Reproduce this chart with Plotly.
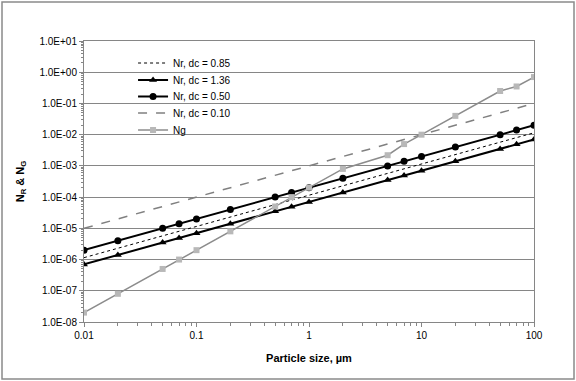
import plotly.graph_objects as go

# ---- data ----
particle_size = [0.01, 0.02, 0.05, 0.07, 0.1, 0.2, 0.5, 0.7, 1, 2, 5, 7, 10, 20, 50, 70, 100]
nr_085 = [1.15e-6, 2.3e-6, 5.75e-6, 8.05e-6, 1.15e-5, 2.3e-5, 5.75e-5, 8.05e-5, 1.15e-4, 2.3e-4,
          5.75e-4, 8.05e-4, 1.15e-3, 2.3e-3, 5.75e-3, 8.05e-3, 1.15e-2]
nr_136 = [7e-7, 1.4e-6, 3.5e-6, 4.9e-6, 7e-6, 1.4e-5, 3.5e-5, 4.9e-5, 7e-5, 1.4e-4,
          3.5e-4, 4.9e-4, 7e-4, 1.4e-3, 3.5e-3, 4.9e-3, 7e-3]
nr_050 = [2e-6, 4e-6, 1e-5, 1.4e-5, 2e-5, 4e-5, 1e-4, 1.4e-4, 2e-4, 4e-4,
          1e-3, 1.4e-3, 2e-3, 4e-3, 1e-2, 1.4e-2, 2e-2]
nr_010 = [1e-5, 2e-5, 5e-5, 7e-5, 1e-4, 2e-4, 5e-4, 7e-4, 1e-3, 2e-3,
          5e-3, 7e-3, 1e-2, 2e-2, 5e-2, 7e-2, 1e-1]
ng = [2e-8, 8e-8, 5e-7, 1e-6, 2e-6, 8e-6, 5e-5, 1e-4, 2e-4, 8e-4,
      2.2e-3, 5e-3, 1e-2, 4e-2, 0.25, 0.35, 0.7]

x_tickvals = [0.01, 0.1, 1, 10, 100]
x_ticktext = ["0.01", "0.1", "1", "10", "100"]
y_tickvals = [1e-8, 1e-7, 1e-6, 1e-5, 1e-4, 1e-3, 1e-2, 1e-1, 1e0, 1e1]
y_ticktext = ["1.0E-08", "1.0E-07", "1.0E-06", "1.0E-05", "1.0E-04",
              "1.0E-03", "1.0E-02", "1.0E-01", "1.0E+00", "1.0E+01"]

GRAY = "#868686"
FONT = "Liberation Sans, Arial, sans-serif"

fig = go.Figure()
fig.add_trace(go.Scatter(x=particle_size, y=nr_085, mode="lines", name="Nr, dc = 0.85",
                         legend="legend",
                         line=dict(color="black", width=1, dash="dot")))
fig.add_trace(go.Scatter(x=particle_size, y=nr_136, mode="lines+markers", name="Nr, dc = 1.36",
                         legend="legend2",
                         line=dict(color="black", width=2),
                         marker=dict(symbol="triangle-up", size=7, color="black")))
fig.add_trace(go.Scatter(x=particle_size, y=nr_050, mode="lines+markers", name="Nr, dc = 0.50",
                         legend="legend3",
                         line=dict(color="black", width=2),
                         marker=dict(symbol="circle", size=7, color="black")))
fig.add_trace(go.Scatter(x=particle_size, y=nr_010, mode="lines", name="Nr, dc = 0.10",
                         legend="legend4",
                         line=dict(color="#808080", width=1.5, dash="dash")))
fig.add_trace(go.Scatter(x=particle_size, y=ng, mode="lines+markers", name="Ng",
                         legend="legend5",
                         line=dict(color="#8c8c8c", width=1.5),
                         marker=dict(symbol="square", size=6, color="#b8b8b8",
                                     line=dict(width=0))))

leg_common = dict(x=0.109, xanchor="left", yanchor="middle",
                  bgcolor="rgba(0,0,0,0)", font=dict(size=10, family=FONT), itemwidth=30)

fig.update_layout(
    width=576, height=381,
    margin=dict(l=84, r=42, t=41, b=59),
    paper_bgcolor="white", plot_bgcolor="white",
    font=dict(family=FONT, size=10, color="black"),
    showlegend=True,
    legend=dict(y=0.9217, **leg_common),
    legend2=dict(y=0.8612, **leg_common),
    legend3=dict(y=0.8025, **leg_common),
    legend4=dict(y=0.7438, **leg_common),
    legend5=dict(y=0.6833, **leg_common),
    shapes=[
        dict(type="rect", xref="paper", yref="paper", x0=-0.1822, x1=1.0889, y0=-0.2028, y1=1.1388,
             line=dict(color="#8a8a8a", width=1.5), fillcolor="rgba(0,0,0,0)"),
    ],
)

fig.update_xaxes(type="log", range=[-2, 2], tickmode="array", tickvals=x_tickvals, ticktext=x_ticktext,
                 showgrid=False, showline=True, linecolor=GRAY, linewidth=1, mirror=True,
                 ticks="outside", ticklen=4, tickcolor=GRAY, tickfont=dict(size=10),
                 minor=dict(ticks="outside", ticklen=3, tickcolor=GRAY, dtick="D1", showgrid=False),
                 zeroline=False,
                 title=dict(text="<b>Particle size, µm</b>", font=dict(size=11), standoff=14))
fig.update_yaxes(type="log", range=[-8, 1], tickmode="array", tickvals=y_tickvals, ticktext=y_ticktext,
                 showgrid=True, gridcolor=GRAY, gridwidth=1,
                 showline=True, linecolor=GRAY, linewidth=1, mirror=True,
                 ticks="outside", ticklen=4, tickcolor=GRAY, tickfont=dict(size=10),
                 minor=dict(ticks="outside", ticklen=2, tickcolor=GRAY, dtick="D1", showgrid=False),
                 zeroline=False,
                 title=dict(text="<b>N<sub>R</sub> & N<sub>G</sub></b>", font=dict(size=11), standoff=12))

fig.write_html("out.html", config={"displayModeBar": False},
               post_script="document.body.style.margin='0';document.body.style.padding='0';")
